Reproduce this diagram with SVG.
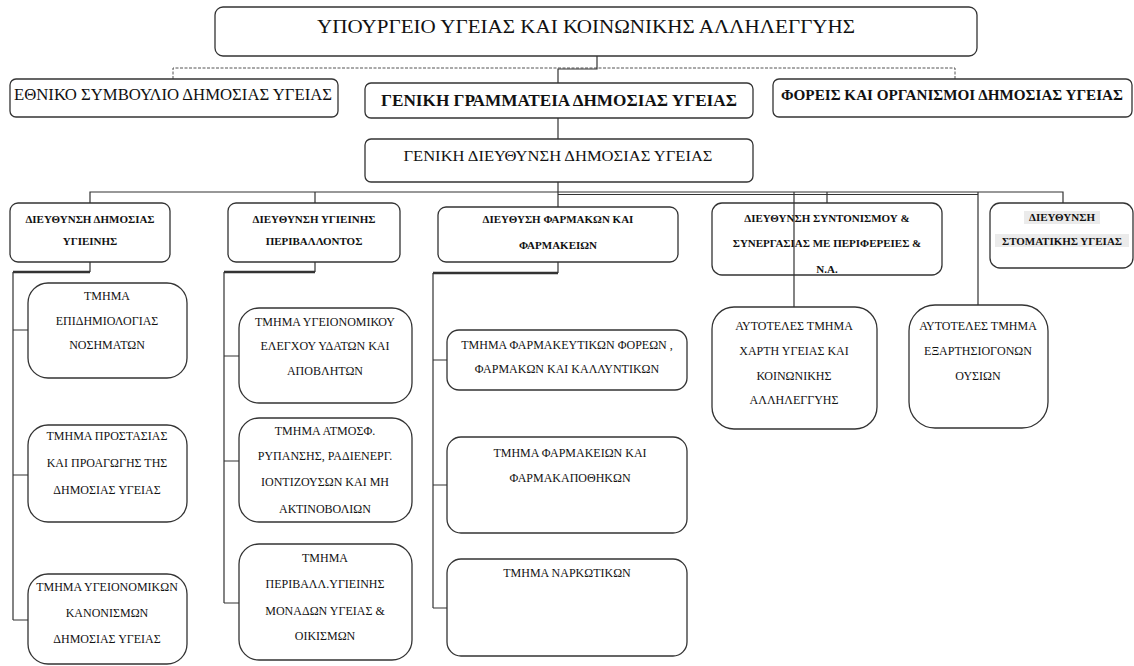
<svg xmlns="http://www.w3.org/2000/svg" width="1134" height="666" viewBox="0 0 1134 666">
<style>
.bx{fill:#fff;stroke:#333;stroke-width:1.3}
.ln{fill:none;stroke:#333;stroke-width:1.2}
.th{fill:none;stroke:#333;stroke-width:2.4}
.ds{fill:none;stroke:#555;stroke-width:1;stroke-dasharray:3 1.5}
text{fill:#111;text-anchor:middle}
.dir{font-size:11px;font-weight:bold}
.sm{font-size:12px}
.hl{fill:#ebebeb}
</style>
<rect width="1134" height="666" fill="#fff"/>
<g id="connectors">
<path class="ds" d="M173,79 V68 H955 V79"/>
<path class="ln" d="M597,56 V69 H558 V83 M558,118 V139 M558,182 V207"/>
<path class="ln" d="M90,203 V192 H1063 V203 M315,192 V203 M794,192 V308 M827,192 V203 M978,192 V305"/>
<path class="ln" d="M558,194.5 H978" stroke-width="1"/>
<path class="ln" d="M90,262 V272 M13,272 V620 M13,330 H28 M13,475 H28 M13,620 H28"/>
<path class="th" d="M90,272 H13"/>
<path class="ln" d="M315,262 V272 M224,272 V603 M224,356 H239 M224,461 H239 M224,603 H239"/>
<path class="th" d="M315,272 H224"/>
<path class="ln" d="M558,262 V273 M433,273 V608 M433,360 H447 M433,485 H447 M433,608 H447"/>
<path class="th" d="M558,273 H433"/>
</g>
<g id="nodes" font-family="'Liberation Serif', 'DejaVu Serif', serif">
<g id="n-ministry"><rect class="bx" x="215" y="7" width="762" height="49" rx="8"/><text font-size="19" x="586" y="33" textLength="538" lengthAdjust="spacingAndGlyphs">ΥΠΟΥΡΓΕΙΟ ΥΓΕΙΑΣ ΚΑΙ ΚΟΙΝΩΝΙΚΗΣ ΑΛΛΗΛΕΓΓΥΗΣ</text></g>
<g id="n-esdy"><rect class="bx" x="10" y="79" width="328" height="38" rx="6"/><text font-size="16" x="173" y="100" textLength="318" lengthAdjust="spacingAndGlyphs">ΕΘΝΙΚΟ ΣΥΜΒΟΥΛΙΟ ΔΗΜΟΣΙΑΣ ΥΓΕΙΑΣ</text></g>
<g id="n-gg"><rect class="bx" x="365" y="83" width="388" height="35" rx="6"/><text font-size="16.5" font-weight="bold" x="559" y="106" textLength="356" lengthAdjust="spacingAndGlyphs">ΓΕΝΙΚΗ ΓΡΑΜΜΑΤΕΙΑ ΔΗΜΟΣΙΑΣ ΥΓΕΙΑΣ</text></g>
<g id="n-foreis"><rect class="bx" x="773" y="79" width="359" height="38" rx="6"/><text font-size="14.5" font-weight="bold" x="952" y="100" textLength="342" lengthAdjust="spacingAndGlyphs">ΦΟΡΕΙΣ ΚΑΙ ΟΡΓΑΝΙΣΜΟΙ ΔΗΜΟΣΙΑΣ ΥΓΕΙΑΣ</text></g>
<g id="n-gd"><rect class="bx" x="365" y="139" width="388" height="43" rx="6"/><text font-size="15.5" x="558" y="161" textLength="309" lengthAdjust="spacingAndGlyphs">ΓΕΝΙΚΗ ΔΙΕΥΘΥΝΣΗ ΔΗΜΟΣΙΑΣ ΥΓΕΙΑΣ</text></g>
<g id="n-d1"><rect class="bx" x="10" y="203" width="160" height="59" rx="8"/><text class="dir" x="90" y="223">ΔΙΕΥΘΥΝΣΗ ΔΗΜΟΣΙΑΣ</text><text class="dir" x="90" y="245">ΥΓΙΕΙΝΗΣ</text></g>
<g id="n-d2"><rect class="bx" x="228" y="203" width="172" height="59" rx="8"/><text class="dir" x="314" y="223">ΔΙΕΥΘΥΝΣΗ ΥΓΙΕΙΝΗΣ</text><text class="dir" x="314" y="245">ΠΕΡΙΒΑΛΛΟΝΤΟΣ</text></g>
<g id="n-d3"><rect class="bx" x="438" y="207" width="240" height="55" rx="8"/><text class="dir" x="558" y="223">ΔΙΕΥΘΥΣΗ ΦΑΡΜΑΚΩΝ ΚΑΙ</text><text class="dir" x="558" y="249">ΦΑΡΜΑΚΕΙΩΝ</text></g>
<g id="n-d4"><rect class="bx" x="712" y="203" width="230" height="72" rx="10"/><text class="dir" x="827" y="222">ΔΙΕΥΘΥΝΣΗ ΣΥΝΤΟΝΙΣΜΟΥ &amp;</text><text class="dir" x="827" y="247">ΣΥΝΕΡΓΑΣΙΑΣ ΜΕ ΠΕΡΙΦΕΡΕΙΕΣ &amp;</text><text class="dir" x="827" y="273">Ν.Α.</text></g>
<g id="n-d5"><rect class="bx" x="990" y="203" width="143" height="65" rx="10"/><rect class="hl" x="1024" y="211" width="76" height="13"/><rect class="hl" x="995" y="234" width="134" height="13"/><text class="dir" x="1062" y="221">ΔΙΕΥΘΥΝΣΗ</text><text class="dir" x="1062" y="245">ΣΤΟΜΑΤΙΚΗΣ ΥΓΕΙΑΣ</text></g>
<g id="n-t11"><rect class="bx" x="28" y="283" width="159" height="95" rx="20"/><text class="sm" x="107" y="300">ΤΜΗΜΑ</text><text class="sm" x="107" y="325">ΕΠΙΔΗΜΙΟΛΟΓΙΑΣ</text><text class="sm" x="107" y="349">ΝΟΣΗΜΑΤΩΝ</text></g>
<g id="n-t12"><rect class="bx" x="28" y="425" width="159" height="97" rx="20"/><text class="sm" x="107" y="440">ΤΜΗΜΑ ΠΡΟΣΤΑΣΙΑΣ</text><text class="sm" x="107" y="467">ΚΑΙ ΠΡΟΑΓΩΓΗΣ ΤΗΣ</text><text class="sm" x="107" y="494">ΔΗΜΟΣΙΑΣ ΥΓΕΙΑΣ</text></g>
<g id="n-t13"><rect class="bx" x="28" y="574" width="159" height="90" rx="20"/><text class="sm" x="107" y="591">ΤΜΗΜΑ ΥΓΕΙΟΝΟΜΙΚΩΝ</text><text class="sm" x="107" y="617">ΚΑΝΟΝΙΣΜΩΝ</text><text class="sm" x="107" y="643">ΔΗΜΟΣΙΑΣ ΥΓΕΙΑΣ</text></g>
<g id="n-t21"><rect class="bx" x="239" y="308" width="173" height="95" rx="20"/><text class="sm" x="325" y="326">ΤΜΗΜΑ ΥΓΕΙΟΝΟΜΙΚΟΥ</text><text class="sm" x="325" y="350">ΕΛΕΓΧΟΥ ΥΔΑΤΩΝ ΚΑΙ</text><text class="sm" x="325" y="375">ΑΠΟΒΛΗΤΩΝ</text></g>
<g id="n-t22"><rect class="bx" x="239" y="418" width="173" height="104" rx="20"/><text class="sm" x="325" y="435">ΤΜΗΜΑ ΑΤΜΟΣΦ.</text><text class="sm" x="325" y="460">ΡΥΠΑΝΣΗΣ, ΡΑΔΙΕΝΕΡΓ.</text><text class="sm" x="325" y="486">ΙΟΝΤΙΖΟΥΣΩΝ ΚΑΙ ΜΗ</text><text class="sm" x="325" y="513">ΑΚΤΙΝΟΒΟΛΙΩΝ</text></g>
<g id="n-t23"><rect class="bx" x="239" y="544" width="173" height="116" rx="20"/><text class="sm" x="325" y="562">ΤΜΗΜΑ</text><text class="sm" x="325" y="588">ΠΕΡΙΒΑΛΛ.ΥΓΙΕΙΝΗΣ</text><text class="sm" x="325" y="615">ΜΟΝΑΔΩΝ ΥΓΕΙΑΣ &amp;</text><text class="sm" x="325" y="640">ΟΙΚΙΣΜΩΝ</text></g>
<g id="n-t31"><rect class="bx" x="447" y="330" width="240" height="60" rx="12"/><text class="sm" x="567" y="349">ΤΜΗΜΑ ΦΑΡΜΑΚΕΥΤΙΚΩΝ ΦΟΡΕΩΝ ,</text><text class="sm" x="567" y="373">ΦΑΡΜΑΚΩΝ ΚΑΙ ΚΑΛΛΥΝΤΙΚΩΝ</text></g>
<g id="n-t32"><rect class="bx" x="447" y="437" width="240" height="96" rx="14"/><text class="sm" x="570" y="457">ΤΜΗΜΑ ΦΑΡΜΑΚΕΙΩΝ ΚΑΙ</text><text class="sm" x="570" y="482">ΦΑΡΜΑΚΑΠΟΘΗΚΩΝ</text></g>
<g id="n-t33"><rect class="bx" x="447" y="559" width="240" height="97" rx="14"/><text class="sm" x="567" y="577">ΤΜΗΜΑ ΝΑΡΚΩΤΙΚΩΝ</text></g>
<g id="n-a1"><rect class="bx" x="712" y="307" width="165" height="122" rx="22"/><text class="sm" x="794" y="330">ΑΥΤΟΤΕΛΕΣ ΤΜΗΜΑ</text><text class="sm" x="794" y="355">ΧΑΡΤΗ ΥΓΕΙΑΣ ΚΑΙ</text><text class="sm" x="794" y="380">ΚΟΙΝΩΝΙΚΗΣ</text><text class="sm" x="794" y="404">ΑΛΛΗΛΕΓΓΥΗΣ</text></g>
<g id="n-a2"><rect class="bx" x="909" y="305" width="139" height="123" rx="26"/><text class="sm" x="978" y="330">ΑΥΤΟΤΕΛΕΣ ΤΜΗΜΑ</text><text class="sm" x="978" y="355">ΕΞΑΡΤΗΣΙΟΓΟΝΩΝ</text><text class="sm" x="978" y="380">ΟΥΣΙΩΝ</text></g>
</g>
<path class="ln" d="M794,203 V275"/>
</svg>
